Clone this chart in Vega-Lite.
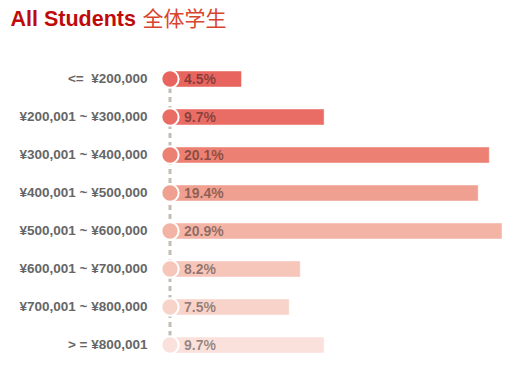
{
  "$schema": "https://vega.github.io/schema/vega-lite/v6.json",
  "autosize": {"type": "none"},
  "width": 332,
  "height": 304,
  "padding": {"left": 170, "top": 60, "right": 16, "bottom": 3},
  "background": "white",
  "config": {"view": {"stroke": null}},
  "data": {
    "values": [
      {"label": "<=\u00a0 ¥200,000", "pct": 4.5, "text": "4.5%"},
      {"label": "¥200,001 ~ ¥300,000", "pct": 9.7, "text": "9.7%"},
      {"label": "¥300,001 ~ ¥400,000", "pct": 20.1, "text": "20.1%"},
      {"label": "¥400,001 ~ ¥500,000", "pct": 19.4, "text": "19.4%"},
      {"label": "¥500,001 ~ ¥600,000", "pct": 20.9, "text": "20.9%"},
      {"label": "¥600,001 ~ ¥700,000", "pct": 8.2, "text": "8.2%"},
      {"label": "¥700,001 ~ ¥800,000", "pct": 7.5, "text": "7.5%"},
      {"label": "> = ¥800,001", "pct": 9.7, "text": "9.7%"}
    ]
  },
  "encoding": {
    "y": {
      "field": "label",
      "type": "nominal",
      "sort": null,
      "scale": {"paddingInner": 0, "paddingOuter": 0},
      "axis": {
        "title": "All Students",
        "titleAngle": 0,
        "titleX": -160,
        "titleY": -35,
        "titleAlign": "left",
        "titleBaseline": "alphabetic",
        "titleFont": "Liberation Sans",
        "titleFontSize": 21.5,
        "titleFontWeight": "bold",
        "titleColor": "#bf0a0a",
        "domain": false,
        "ticks": false,
        "labelPadding": 23,
        "labelFont": "Liberation Sans",
        "labelFontSize": 13.5,
        "labelFontWeight": "bold",
        "labelColor": "#666666"
      }
    }
  },
  "layer": [
    {
      "mark": {"type": "line", "stroke": "#c3beb4", "strokeWidth": 3, "strokeDash": [5, 4]},
      "encoding": {
        "x": {
          "datum": 0,
          "type": "quantitative",
          "scale": {"domain": [0, 20.9], "nice": false},
          "axis": {
            "orient": "top",
            "title": "全体学生",
            "titleX": -28,
            "titleY": -35,
            "titleAlign": "left",
            "titleAnchor": null,
            "titleBaseline": "alphabetic",
            "titleFont": "Noto Sans CJK SC",
            "titleFontSize": 21,
            "titleFontWeight": "normal",
            "titleColor": "#d8452f",
            "labels": false,
            "ticks": false,
            "domain": false,
            "grid": false
          }
        }
      }
    },
    {
      "mark": {"type": "bar", "height": 16, "stroke": "white", "strokeOpacity": 0.45, "strokeWidth": 1},
      "encoding": {
        "x": {"field": "pct", "type": "quantitative"},
        "color": {
          "field": "label",
          "type": "nominal",
          "sort": null,
          "legend": null,
          "scale": {"range": ["#e8655f", "#e96d65", "#ec8072", "#f0a090", "#f3b4a6", "#f6c6bb", "#f8d3ca", "#fbe1db"]}
        }
      }
    },
    {
      "mark": {"type": "point", "filled": true, "size": 300, "strokeWidth": 2, "opacity": 1, "shape": "circle"},
      "encoding": {
        "x": {"datum": 0, "type": "quantitative"},
        "fill": {"field": "label", "type": "nominal", "sort": null, "legend": null, "scale": {"range": ["#e8655f", "#e96d65", "#ec8072", "#f0a090", "#f3b4a6", "#f6c6bb", "#f8d3ca", "#fbe1db"]}},
        "stroke": {"value": "white"}
      }
    },
    {
      "mark": {"type": "text", "align": "left", "baseline": "middle", "dx": 14, "dy": 1, "font": "Liberation Sans", "fontSize": 14, "fontWeight": "bold", "fill": "black", "fillOpacity": 0.42},
      "encoding": {
        "x": {"datum": 0, "type": "quantitative"},
        "text": {"field": "text"}
      }
    }
  ]
}
